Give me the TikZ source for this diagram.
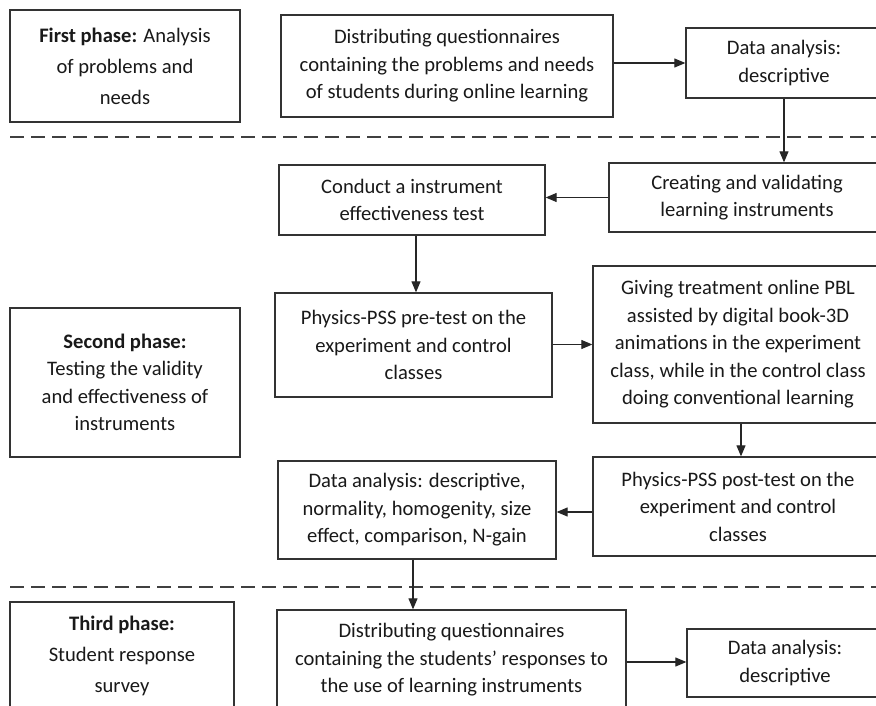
\documentclass[tikz,border=0pt]{standalone}
\usepackage{fontspec}
\setmainfont{Carlito}
\usetikzlibrary{arrows.meta}
\tikzset{
  box/.style={draw=black!80, line width=1.3pt, align=center, inner sep=0pt, text=black!90,
    font=\fontsize{20.6}{27.5}\selectfont},
  phase/.style={box, font=\fontsize{20.6}{31}\selectfont},
  arr/.style={draw=black!85, line width=1.1pt, -{Triangle[length=11pt,width=9pt]}},
  sep/.style={draw=black!75, line width=1.4pt, dash pattern=on 14pt off 7pt}
}
\begin{document}
\begin{tikzpicture}[x=1pt,y=-1pt]
\useasboundingbox (0,0) rectangle (876,706);
\clip (0,0) rectangle (876,706);
\fill[white] (0,0) rectangle (876,706);
% phase boxes
\node[phase, minimum width=230pt, minimum height=112pt] (A) at (125,66) {\textbf{First phase:} Analysis\\of problems and\\needs};
\node[box, minimum width=230pt, minimum height=149pt] (G) at (125,382.5) {\textbf{Second phase:}\\Testing the validity\\and effectiveness of\\instruments};
\node[phase, minimum width=224pt, minimum height=108pt] (L) at (122,656) {\textbf{Third phase:}\\Student response\\survey};
% process boxes
\node[box, minimum width=332pt, minimum height=102pt] (B) at (447,66) {Distributing questionnaires\\containing the problems and needs\\of students during online learning};
\node[box, minimum width=196pt, minimum height=70pt] (C) at (784,63) {Data analysis:\\descriptive};
\node[box, minimum width=276pt, minimum height=69pt] (D) at (747,197.5) {Creating and validating\\learning instruments};
\node[box, minimum width=266pt, minimum height=70pt] (E) at (412,200) {Conduct a instrument\\effectiveness test};
\node[box, minimum width=277pt, minimum height=104pt] (F) at (413.5,345) {Physics-PSS pre-test on the\\experiment and control\\classes};
\node[box, minimum width=290pt, minimum height=157pt] (H) at (738,344.5) {Giving treatment online PBL\\assisted by digital book-3D\\animations in the experiment\\class, while in the control class\\doing conventional learning};
\node[box, minimum width=290pt, minimum height=99pt] (I) at (738,506.5) {Physics-PSS post-test on the\\experiment and control\\classes};
\node[box, minimum width=278pt, minimum height=98pt] (J) at (417,510) {Data analysis: descriptive,\\normality, homogenity, size\\effect, comparison, N-gain};
\node[box, minimum width=349pt, minimum height=100pt] (K) at (451.5,660) {Distributing questionnaires\\containing the students’ responses to\\the use of learning instruments};
\node[box, minimum width=196pt, minimum height=68pt] (M) at (785,663) {Data analysis:\\descriptive};
% separators
\coordinate (s1a) at (10,137); \coordinate (s1b) at (876,137);
\coordinate (s2a) at (10,587); \coordinate (s2b) at (876,587);
\draw[sep] (s1a) -- (s1b);
\draw[sep] (s2a) -- (s2b);
% connectors
\draw[arr] (B.east |- C.west) -- (C.west);
\draw[arr] (C.south) -- (C.south |- D.north);
\draw[arr] (D.west) -- (E.east |- D.west);
\draw[arr] ([xshift=4pt]E.south) -- ([xshift=4pt]E.south |- F.north);
\draw[arr] (F.east |- H.west) -- (H.west);
\draw[arr] ([xshift=3pt]H.south) -- ([xshift=3pt]H.south |- I.north);
\draw[arr] (I.west |- 0,512) -- (J.east |- 0,512);
\draw[arr] ([xshift=-4pt]J.south) -- ([xshift=-4pt]J.south |- K.north);
\draw[arr] (K.east |- 0,662) -- (M.west |- 0,662);
\end{tikzpicture}
\end{document}
